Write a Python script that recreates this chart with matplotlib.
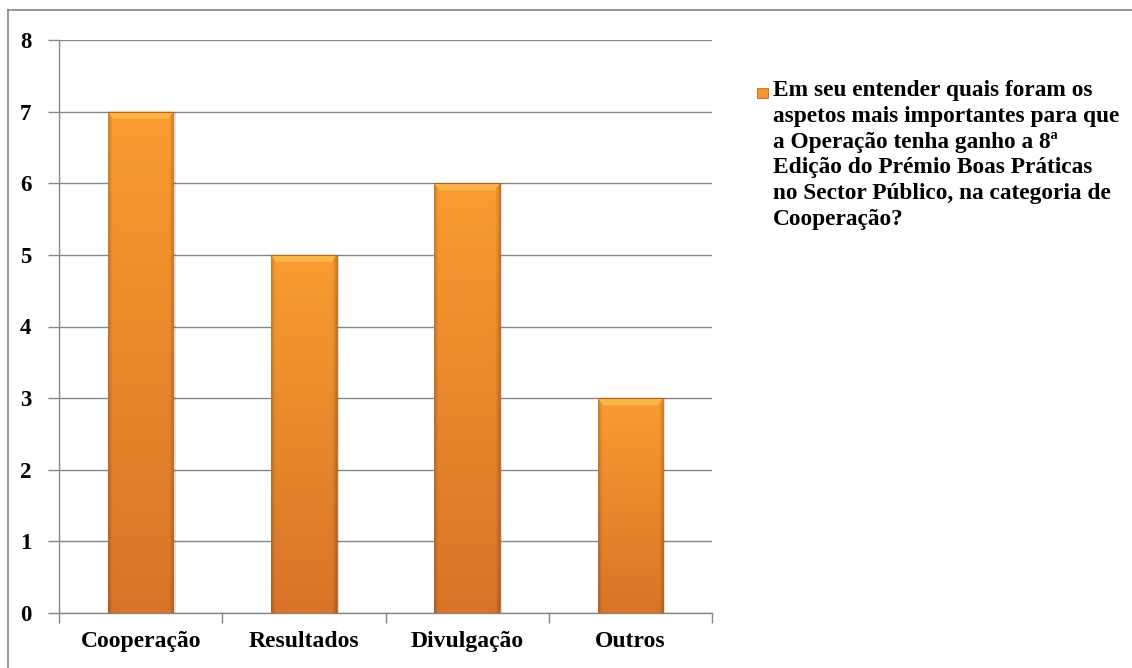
import numpy as np
import matplotlib.pyplot as plt
from matplotlib.patches import Rectangle
from matplotlib.lines import Line2D

categories = ['Cooperação', 'Resultados', 'Divulgação', 'Outros']
counts = [7, 5, 6, 3]
series_label = ('Em seu entender quais foram os\n'
                'aspetos mais importantes para que\n'
                'a Operação tenha ganho a 8ª\n'
                'Edição do Prémio Boas Práticas\n'
                'no Sector Público, na categoria de\n'
                'Cooperação?')

plt.rcParams['font.family'] = ['Liberation Serif', 'DejaVu Serif']
plt.rcParams['font.weight'] = 'bold'

grid_col = '#868686'
top_col = np.array([0xF9, 0x9C, 0x30]) / 255.
bot_col = np.array([0xD8, 0x74, 0x28]) / 255.


def bar_image(nrows=200, ncols=60):
    # vertical gradient light->dark with darker side edges
    t = np.linspace(0, 1, nrows)[:, None]
    rgb = top_col * (1 - t[..., None]) + bot_col * t[..., None]
    rgb = np.repeat(rgb, ncols, axis=1)
    x = np.linspace(0, 1, ncols)
    edge = np.clip(1 - np.minimum(x, 1 - x) / 0.06, 0, 1) * 0.18
    rgb = rgb * (1 - edge[None, :, None])
    return np.clip(rgb, 0, 1)


fig = plt.figure(figsize=(11.32, 6.68), dpi=100)
ax = fig.add_axes([59 / 1132, 1 - 613 / 668, (712 - 59) / 1132, (613 - 40) / 668])

xpos = np.arange(len(categories))
bars = ax.bar(xpos, counts, width=0.4, color=top_col, zorder=3,
              edgecolor='#b8641f', linewidth=0.6)

img = bar_image()
for b in bars:
    x0, y0 = b.get_x(), b.get_y()
    w, h = b.get_width(), b.get_height()
    # soft shadow on the right
    ax.add_patch(Rectangle((x0 + 0.015, y0), w, h, color='#000000', alpha=0.12,
                           zorder=2, linewidth=0))
    im = ax.imshow(img, extent=[x0, x0 + w, y0, y0 + h], aspect='auto',
                   zorder=3.5, interpolation='bilinear')
    im.set_clip_path(b)
    # top bevel highlight
    bev = 0.1
    ax.fill([x0, x0 + w, x0 + w - 0.03, x0 + 0.03],
            [y0 + h, y0 + h, y0 + h - bev, y0 + h - bev],
            color='#FBB548', zorder=3.6, linewidth=0)
    ax.plot([x0, x0 + w], [y0 + h, y0 + h], color='#b8641f', lw=0.8, zorder=3.7)

ax.set_xlim(-0.5, len(categories) - 0.5)
ax.set_ylim(0, 8)
ax.set_yticks(range(0, 9))
ax.yaxis.grid(True, color=grid_col, linewidth=1.0, zorder=0)
ax.set_axisbelow(True)

ax.set_xticks(xpos)
ax.set_xticklabels(categories, fontsize=17, fontweight='bold')
ax.tick_params(axis='x', length=0, pad=13)
ax.set_xticks(np.arange(-0.5, len(categories)), minor=True)
ax.tick_params(axis='x', which='minor', length=7, color=grid_col, width=1)
ax.tick_params(axis='y', length=8, color=grid_col, width=1, pad=12, labelsize=16.5)
for lab in ax.get_yticklabels():
    lab.set_fontweight('bold')

for s in ['top', 'right']:
    ax.spines[s].set_visible(False)
for s in ['left', 'bottom']:
    ax.spines[s].set_color(grid_col)
    ax.spines[s].set_linewidth(1.0)

# legend drawn by hand so the marker sits on the first line
fig.patches.append(Rectangle((757 / 1132, 1 - 98 / 668), 11 / 1132, 10 / 668,
                             transform=fig.transFigure, facecolor='#F2952E',
                             edgecolor='#c06a20', linewidth=0.6))
fig.text(773 / 1132, 1 - 80 / 668, series_label, fontsize=16.8, fontweight='bold',
         va='top', ha='left', linespacing=1.3)

# outer chart frame
fig.add_artist(Line2D([8 / 1132, 1], [1 - 10 / 668, 1 - 10 / 668],
                      transform=fig.transFigure, color=grid_col, lw=1.2))
fig.add_artist(Line2D([8 / 1132, 8 / 1132], [0, 1 - 10 / 668],
                      transform=fig.transFigure, color=grid_col, lw=1.2))

fig.savefig('out.png', dpi=100)
